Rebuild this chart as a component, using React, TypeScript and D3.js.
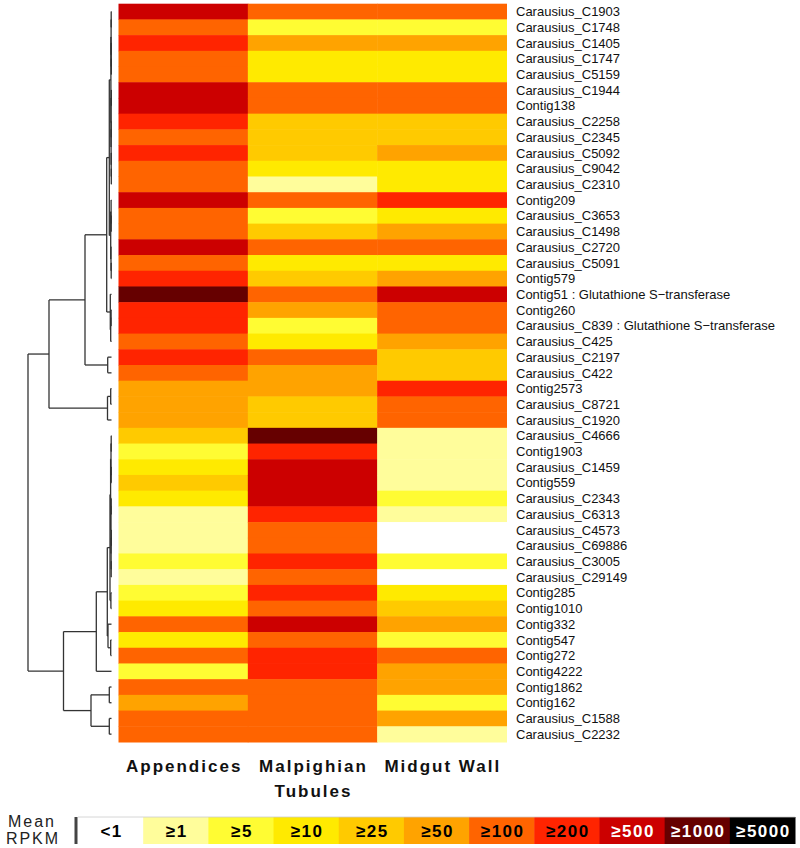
import React from "react";
import * as d3 from "d3";

const rowLabels = [
  "Carausius_C1903", "Carausius_C1748", "Carausius_C1405", "Carausius_C1747", "Carausius_C5159",
  "Carausius_C1944", "Contig138", "Carausius_C2258", "Carausius_C2345", "Carausius_C5092",
  "Carausius_C9042", "Carausius_C2310", "Contig209", "Carausius_C3653", "Carausius_C1498",
  "Carausius_C2720", "Carausius_C5091", "Contig579", "Contig51 : Glutathione S\u2212transferase", "Contig260",
  "Carausius_C839 : Glutathione S\u2212transferase", "Carausius_C425", "Carausius_C2197", "Carausius_C422", "Contig2573",
  "Carausius_C8721", "Carausius_C1920", "Carausius_C4666", "Contig1903", "Carausius_C1459",
  "Contig559", "Carausius_C2343", "Carausius_C6313", "Carausius_C4573", "Carausius_C69886",
  "Carausius_C3005", "Carausius_C29149", "Contig285", "Contig1010", "Contig332",
  "Contig547", "Contig272", "Contig4222", "Contig1862", "Contig162",
  "Carausius_C1588", "Carausius_C2232",
];

const tissues = ["Appendices", "Malpighian Tubules", "Midgut Wall"];

// expression level category index (0 = <1 ... 10 = >=5000)
const appendices = [8, 6, 7, 6, 6, 8, 8, 7, 6, 7, 6, 6, 8, 6, 6, 8, 6, 7, 9, 7, 7, 6, 7, 6, 5, 5, 5, 4, 2, 3, 4, 3, 1, 1, 1, 2, 1, 2, 3, 6, 3, 6, 2, 6, 5, 6, 6];
const malpighian = [6, 2, 5, 3, 3, 6, 6, 4, 4, 4, 3, 1, 6, 2, 4, 6, 3, 4, 6, 5, 2, 3, 6, 5, 5, 4, 4, 9, 7, 8, 8, 8, 7, 6, 6, 7, 6, 7, 6, 8, 6, 7, 7, 6, 6, 6, 6];
const midgut = [6, 2, 5, 3, 3, 6, 6, 4, 4, 5, 3, 3, 7, 3, 5, 6, 3, 5, 8, 6, 6, 5, 4, 4, 7, 6, 6, 1, 1, 1, 1, 2, 1, 0, 0, 2, 0, 3, 4, 5, 2, 6, 5, 5, 2, 5, 1];

const legendLabels = ["<1", "\u22651", "\u22655", "\u226510", "\u226525", "\u226550", "\u2265100", "\u2265200", "\u2265500", "\u22651000", "\u22655000"];
const legendColors = ["#FFFFFF", "#FFFD9B", "#FFFC33", "#FFEA00", "#FFCA00", "#FFA300", "#FF6400", "#FF2400", "#CC0000", "#660000", "#000000"];
const legendTextColors = ["#000", "#000", "#000", "#000", "#000", "#000", "#000", "#000", "#fff", "#fff", "#fff"];

// dendrogram: leaf = row index, node = [height, left, right]
type Node = number | [number, Node, Node];
const dendrogram: Node = [83.5,
  [62.5,
    [26.5,
      [4.8,
        [2.2,
          [0.6, [0.4, [0.3, 0, 1], [0.3, 2, [0.2, 3, 4]]], [0.5, [0.2, 5, 6], [0.4, [0.3, 7, 8], [0.3, 9, [0.2, 10, 11]]]]],
          [0.8, [0.4, 12, [0.3, 13, 14]], [0.5, 15, [0.3, 16, 17]]]],
        [1.2, 18, [0.8, [0.4, 19, 20], 21]]],
      [3.8, 22, 23]],
    [4, [0.8, 24, 25], 26]],
  [48,
    [15.2,
      [4.2,
        [1.5,
          [0.9, [0.5, [0.3, 27, 28], [0.3, 29, 30]], [0.6, [0.3, 31, 32], [0.4, [0.2, 33, 34], [0.3, 35, 36]]]],
          [0.6, 37, 38]],
        [3.5, 39, [0.8, 40, 41]]],
      42],
    [20.5, [2.2, 43, 44], [2.2, 45, 46]]]];

const font = "'Liberation Sans', Arial, Helvetica, sans-serif";

export default function App() {
  const W = 800, H = 848;
  const y = d3.scaleBand<number>().domain(d3.range(rowLabels.length)).range([3.7, 742]);
  const x = d3.scaleBand<string>().domain(tissues).range([118.5, 506.5]);
  const color = d3.scaleOrdinal<number, string>().domain(d3.range(11)).range(legendColors);
  const hx = d3.scaleLinear().domain([0, 83.5]).range([111.5, 28]);
  const series = [appendices, malpighian, midgut];

  const lines: { x1: number; y1: number; x2: number; y2: number }[] = [];
  const walk = (n: Node): { pos: number; h: number } => {
    if (typeof n === "number") return { pos: (y(n) as number) + y.bandwidth() / 2, h: 0 };
    const [h, l, r] = n;
    const a = walk(l), b = walk(r);
    const xn = hx(h);
    lines.push({ x1: xn, y1: a.pos, x2: xn, y2: b.pos });
    lines.push({ x1: xn, y1: a.pos, x2: hx(a.h), y2: a.pos });
    lines.push({ x1: xn, y1: b.pos, x2: hx(b.h), y2: b.pos });
    return { pos: (a.pos + b.pos) / 2, h };
  };
  walk(dendrogram);

  const lx = d3.scaleBand<string>().domain(legendLabels).range([78, 795]);
  const legTop = 817, legH = 27;

  return (
    <svg width={W} height={H} style={{ position: "absolute", left: 0, top: 0, background: "#fff" }} fontFamily={font}>
      <rect x={0} y={0} width={W} height={H} fill="#fff" />
      {series.map((vals, ci) =>
        vals.map((v, ri) => (
          <rect key={`${ci}-${ri}`} x={x(tissues[ci])} y={y(ri)} width={x.bandwidth() + 0.5} height={y.bandwidth() + 0.5} fill={color(v)} />
        ))
      )}
      {lines.map((l, i) => (
        <line key={i} x1={l.x1} y1={l.y1} x2={l.x2} y2={l.y2} stroke="#333" strokeWidth={1.3} />
      ))}
      {rowLabels.map((lab, i) => (
        <text key={lab} x={516} y={(y(i) as number) + y.bandwidth() / 2} dy="0.36em" fontSize={13} fill="#111">
          {lab}
        </text>
      ))}
      {tissues.map((t) => {
        const cx = (x(t) as number) + x.bandwidth() / 2 + 1;
        const parts = t === "Malpighian Tubules" ? ["Malpighian", "Tubules"] : [t];
        return parts.map((p, k) => (
          <text key={t + k} x={cx} y={772 + k * 24.5} textAnchor="middle" fontSize={17} fontWeight="bold" letterSpacing={2} fill="#111">
            {p}
          </text>
        ));
      })}
      <text x={32} y={827} textAnchor="middle" fontSize={16} letterSpacing={2} fill="#222">Mean</text>
      <text x={33} y={844} textAnchor="middle" fontSize={16} letterSpacing={2} fill="#222">RPKM</text>
      <rect x={74.5} y={legTop} width={3} height={legH} fill="#444" />
      {legendLabels.map((lab, i) => (
        <g key={lab}>
          <rect x={lx(lab)} y={legTop} width={lx.bandwidth() + 0.5} height={legH} fill={legendColors[i]} />
          <text x={(lx(lab) as number) + lx.bandwidth() / 2 + 1} y={legTop + legH / 2} dy="0.36em" textAnchor="middle" fontSize={17} fontWeight="bold" letterSpacing={1.5} fill={legendTextColors[i]}>
            {lab}
          </text>
        </g>
      ))}
      <line x1={78} x2={lx.range()[1]} y1={legTop} y2={legTop} stroke="#ccc" strokeWidth={0.8} />
    </svg>
  );
}
